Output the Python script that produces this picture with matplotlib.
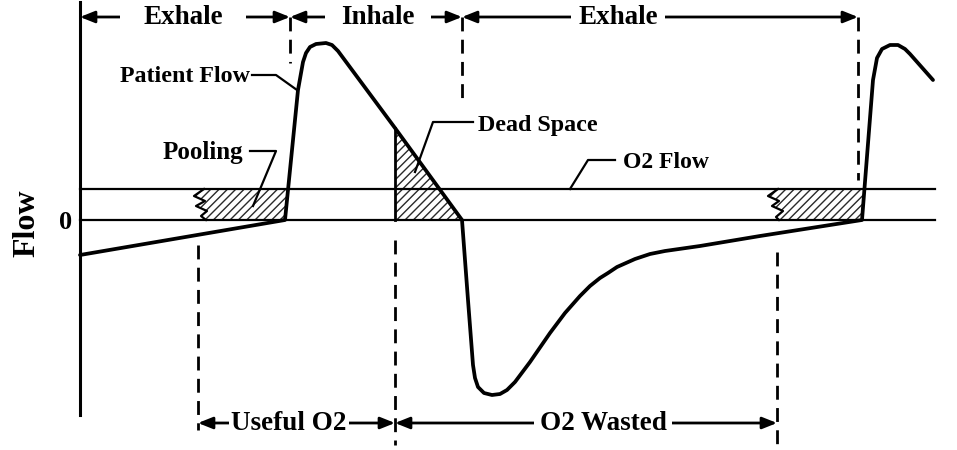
import numpy as np
import matplotlib.pyplot as plt

plt.rcParams['font.family'] = ['Liberation Serif', 'DejaVu Serif']
plt.rcParams['font.weight'] = 'bold'
plt.rcParams['hatch.linewidth'] = 1.0

# patient flow trace (time, flow; 0 = zero-flow line)
TIME = [80, 285, 298, 303, 306, 310, 316, 326, 332, 338, 395, 462,
        468, 473, 475, 478, 484, 492, 500, 507, 515, 530, 550, 565, 580,
        590, 600, 608, 617, 635, 650, 665, 700, 760, 862,
        873, 877, 882, 890, 898, 905, 910, 933]
FLOW = [-35, 0, 130, 158, 167, 173, 176, 177, 175, 169, 92, 0,
        -80, -145, -158, -167, -173, -175, -174, -170, -162, -142, -113, -93, -76,
        -66, -58, -53, -47, -39, -34, -31, -26, -16, 0,
        140, 162, 171, 175, 175, 171, 166, 140]
O2_FLOW = 31
T_START, T_END = 80, 935

# ragged left edges of the two pooling areas
POOL1_T = [204, 194, 205, 196, 207, 201, 206]
POOL1_F = [31, 24, 19, 14, 9, 4, 0]
POOL2_T = [778, 768, 779, 772, 783, 776, 779]
POOL2_F = [31, 24, 19, 14, 9, 3, 0]
DEAD_SPACE_T = [395, 462]

PHASE_EDGES = [80, 290, 462, 858]
PHASE_LABELS = ['Exhale', 'Inhale', 'Exhale']
PHASE_LABEL_T = [183, 378, 618]
O2_EDGES = [198, 395, 777]
O2_LABELS = ['Useful O2', 'O2 Wasted']
O2_LABEL_T = [289, 603]

HATCH_COLOR = '#2a2a2a'


def rise_time(k, f):
    return np.interp(f, [FLOW[k], FLOW[k + 1]], [TIME[k], TIME[k + 1]])


def plot_pooling(ax, zig_t, zig_f):
    k = next(i for i in range(len(TIME)) if TIME[i] >= max(zig_t) and FLOW[i] >= 0)
    xs = list(zig_t) + [rise_time(k, 0), rise_time(k, O2_FLOW)]
    ys = list(zig_f) + [0, O2_FLOW]
    ax.fill(xs, ys, facecolor='none', hatch='////', edgecolor=HATCH_COLOR, lw=0, zorder=1)
    ax.plot(zig_t, zig_f, color='k', lw=1.6, zorder=2)


def span_arrow(ax, a, b, y, label, xc, pad_px, fs):
    ax.annotate('', xy=(a, y), xytext=(b, y),
                arrowprops=dict(arrowstyle='<|-|>,head_length=0.55,head_width=0.22',
                                color='k', lw=2, mutation_scale=16, shrinkA=0, shrinkB=0),
                zorder=2)
    ax.text(xc, y, label, ha='center', va='center', fontsize=fs, zorder=2.5,
            bbox=dict(boxstyle=f'square,pad={pad_px * 0.72 / fs:.2f}', fc='white', ec='none'))


fig = plt.figure(figsize=(9.57, 4.5), dpi=100)
ax = fig.add_axes([0, 0, 1, 1])
ax.set_xlim(0, 957)
ax.set_ylim(-230, 220)
ax.axis('off')

# axis, zero line and constant O2 flow
ax.plot([T_START, T_START], [218, -195], color='k', lw=2.2)
ax.plot([T_START, T_END], [0, 0], color='k', lw=1.6)
ax.plot([T_START, T_END], [O2_FLOW, O2_FLOW], color='k', lw=1.6)

# hatched areas
plot_pooling(ax, POOL1_T, POOL1_F)
plot_pooling(ax, POOL2_T, POOL2_F)
dead_f = np.interp(DEAD_SPACE_T, TIME, FLOW)
ax.fill_between(DEAD_SPACE_T, dead_f, 0, facecolor='none', hatch='////',
                edgecolor=HATCH_COLOR, lw=0, zorder=1)
ax.plot([DEAD_SPACE_T[0]] * 2, [0, dead_f[0]], color='k', lw=2, zorder=2)

# patient flow
ax.plot(TIME, FLOW, color='k', lw=2.7, solid_joinstyle='round',
        solid_capstyle='round', zorder=3)

# phase boundaries
dash = dict(color='k', lw=2, linestyle=(0, (5, 3)))
ax.plot([290, 290], [203, 157], **dash)
ax.plot([462, 462], [203, 120], **dash)
ax.plot([858, 858], [203, 40], **dash)
ax.plot([198, 198], [-25, -210], **dash)
ax.plot([395, 395], [-20, -225], **dash)
ax.plot([777, 777], [-32, -225], **dash)

pads = [23, 16, 7]
for i, lab in enumerate(PHASE_LABELS):
    span_arrow(ax, PHASE_EDGES[i], PHASE_EDGES[i + 1], 203, lab, PHASE_LABEL_T[i], pads[i], 19.5)
pads = [2, 6]
for i, lab in enumerate(O2_LABELS):
    span_arrow(ax, O2_EDGES[i], O2_EDGES[i + 1], -203, lab, O2_LABEL_T[i], pads[i], 19.5)

# callouts
lead = dict(color='k', lw=1.6)
ax.text(250, 143, 'Patient Flow', ha='right', va='center', fontsize=17.3)
ax.plot([252, 276, 297], [145, 145, 130], **lead)
ax.text(243, 68, 'Pooling', ha='right', va='center', fontsize=18)
ax.plot([250, 276, 253], [69, 69, 14], **lead)
ax.text(478, 95, 'Dead Space', ha='left', va='center', fontsize=17.3)
ax.plot([473, 433, 415], [98, 98, 48], **lead)
ax.text(623, 58, 'O2 Flow', ha='left', va='center', fontsize=17)
ax.plot([615, 588, 570], [60, 60, O2_FLOW], **lead)

ax.text(72, -2, '0', ha='right', va='center', fontsize=19)
ax.text(27, -3, 'Flow', ha='center', va='center', rotation=90, fontsize=23)

fig.savefig('out.png', dpi=100)
